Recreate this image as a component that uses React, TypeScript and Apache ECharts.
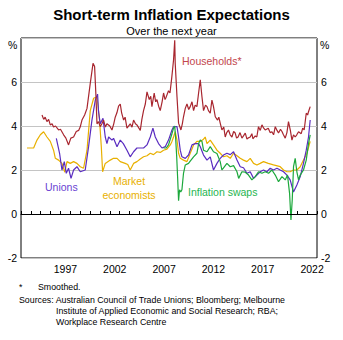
import React, { useEffect, useRef } from "react";
import * as echarts from "echarts";

// [decimal year, per cent]
const households: [number, number][] = [
  [1995.13, 4.5], [1995.3, 4.3], [1995.45, 4.4], [1995.63, 4.2], [1995.8, 4.3], [1995.97, 4.05], [1996.15, 4.1], [1996.3, 3.95],
  [1996.5, 4.0], [1996.81, 3.82], [1997.0, 3.85], [1997.32, 3.6], [1997.55, 3.45], [1997.82, 3.14], [1998.05, 3.45], [1998.33, 3.5],
  [1998.6, 3.75], [1998.84, 3.8], [1999.0, 3.95], [1999.18, 4.27], [1999.45, 4.5], [1999.69, 4.8], [2000.02, 5.94], [2000.3, 6.85],
  [2000.46, 6.7], [2000.6, 5.33], [2000.7, 4.1], [2000.85, 4.2], [2001.03, 3.97], [2001.2, 4.1], [2001.37, 4.27], [2001.55, 3.95],
  [2001.71, 4.1], [2002.0, 4.0], [2002.22, 3.82], [2002.4, 4.1], [2002.55, 4.4], [2002.72, 4.6], [2002.89, 4.9], [2003.06, 5.0],
  [2003.2, 4.6], [2003.4, 4.27], [2003.55, 4.4], [2003.74, 3.9], [2004.07, 4.1], [2004.25, 3.95], [2004.41, 4.27], [2004.6, 4.1],
  [2004.75, 4.05], [2005.09, 3.8], [2005.25, 4.3], [2005.42, 4.7], [2005.6, 5.0], [2005.77, 5.55], [2006.0, 5.2], [2006.15, 5.35],
  [2006.27, 4.88], [2006.5, 5.5], [2006.65, 5.1], [2006.78, 5.2], [2006.95, 4.9], [2007.11, 4.7], [2007.3, 5.1], [2007.45, 5.5],
  [2007.6, 5.2], [2007.7, 5.3], [2007.95, 5.6], [2008.1, 5.5], [2008.28, 6.2], [2008.46, 7.0], [2008.58, 7.9], [2008.63, 6.85],
  [2008.81, 5.33], [2008.97, 4.13], [2009.21, 3.82], [2009.35, 4.1], [2009.47, 4.42], [2009.65, 4.8], [2009.82, 5.0], [2010.0, 4.75],
  [2010.15, 4.88], [2010.33, 5.1], [2010.49, 4.7], [2010.65, 4.95], [2010.83, 4.88], [2011.0, 5.5], [2011.17, 6.1], [2011.34, 5.33],
  [2011.5, 4.7], [2011.7, 4.95], [2011.85, 4.88], [2012.0, 4.7], [2012.18, 4.58], [2012.35, 5.18], [2012.5, 4.9], [2012.69, 4.42],
  [2012.92, 4.27], [2013.05, 4.4], [2013.19, 4.13], [2013.36, 3.82], [2013.55, 3.95], [2013.7, 3.5], [2013.85, 3.7], [2014.03, 3.82],
  [2014.2, 3.6], [2014.38, 3.5], [2014.55, 3.75], [2014.71, 3.68], [2014.85, 3.45], [2015.0, 3.5], [2015.2, 3.7], [2015.39, 3.45],
  [2015.55, 3.55], [2015.73, 3.68], [2015.9, 3.4], [2016.0, 3.45], [2016.23, 3.5], [2016.4, 3.65], [2016.5, 3.42], [2016.74, 3.55],
  [2016.9, 3.5], [2017.07, 3.97], [2017.25, 3.8], [2017.42, 4.05], [2017.6, 3.9], [2017.75, 3.82], [2018.06, 3.9], [2018.25, 3.7],
  [2018.43, 3.74], [2018.6, 3.6], [2018.77, 3.97], [2018.95, 3.8], [2019.1, 3.68], [2019.3, 3.85], [2019.45, 3.75], [2019.6, 3.6],
  [2019.78, 3.45], [2019.95, 3.7], [2020.11, 4.2], [2020.3, 3.8], [2020.46, 3.36], [2020.62, 3.6], [2020.79, 3.5], [2020.95, 3.6],
  [2021.13, 3.74], [2021.4, 3.65], [2021.55, 3.9], [2021.7, 3.82], [2021.91, 4.58], [2022.05, 4.5], [2022.14, 4.65], [2022.31, 4.88],
];

const unions: [number, number][] = [
  [1996.58, 3.44], [1996.91, 2.76], [1997.15, 2.0], [1997.39, 2.38], [1997.59, 1.85], [1997.82, 2.08], [1998.07, 1.62], [1998.33, 2.0],
  [1998.67, 2.15], [1999.01, 1.92], [1999.51, 2.0], [1999.85, 3.06], [2000.19, 4.27], [2000.53, 5.18], [2000.76, 5.45], [2000.86, 4.65],
  [2001.03, 4.1], [2001.31, 4.35], [2001.54, 3.5], [2001.71, 3.2], [2001.88, 3.5], [2002.22, 3.36], [2002.38, 3.44], [2002.73, 3.06],
  [2003.06, 3.36], [2003.37, 3.2], [2003.74, 2.9], [2004.07, 2.6], [2004.41, 2.83], [2004.75, 3.0], [2005.09, 3.0], [2005.42, 3.0],
  [2005.77, 3.14], [2006.1, 3.5], [2006.37, 3.9], [2006.61, 3.5], [2006.94, 3.2], [2007.29, 3.0], [2007.62, 3.06], [2007.95, 3.36],
  [2008.3, 3.82], [2008.46, 3.97], [2008.81, 3.97], [2008.97, 3.5], [2009.14, 2.9], [2009.31, 2.6], [2009.65, 2.53], [2009.98, 2.68],
  [2010.33, 3.14], [2010.66, 3.2], [2011.0, 3.2], [2011.17, 3.06], [2011.5, 2.68], [2011.85, 2.45], [2012.18, 2.6], [2012.51, 2.0],
  [2012.86, 2.3], [2013.19, 2.53], [2013.53, 2.68], [2013.87, 2.76], [2014.21, 2.7], [2014.54, 2.83], [2014.89, 2.45], [2015.22, 2.15],
  [2015.55, 2.1], [2015.9, 1.85], [2016.23, 1.92], [2016.57, 1.62], [2016.91, 1.77], [2017.24, 1.92], [2017.58, 2.0], [2017.92, 1.92],
  [2018.26, 2.08], [2018.59, 2.0], [2018.94, 2.08], [2019.27, 2.0], [2019.61, 1.92], [2019.95, 1.77], [2020.28, 1.55], [2020.62, 1.0],
  [2020.96, 1.32], [2021.3, 1.7], [2021.63, 2.3], [2021.91, 2.9], [2022.14, 3.5], [2022.31, 4.27],
];

const marketEconomists: [number, number][] = [
  [1993.61, 3.0], [1994.28, 3.0], [1994.62, 3.36], [1994.96, 3.6], [1995.29, 3.74], [1995.63, 3.5], [1995.97, 3.3], [1996.3, 2.9],
  [1996.48, 2.53], [1996.81, 2.45], [1997.15, 2.3], [1997.44, 1.9], [1997.66, 2.38], [1997.99, 2.3], [1998.33, 2.38], [1998.67, 2.3],
  [1999.01, 2.15], [1999.34, 2.08], [1999.69, 2.9], [2000.02, 4.7], [2000.36, 5.26], [2000.7, 5.33], [2000.96, 4.27], [2001.14, 3.06],
  [2001.27, 1.92], [2001.54, 2.3], [2002.05, 2.45], [2002.38, 2.53], [2002.73, 2.53], [2003.06, 2.38], [2003.56, 2.3], [2003.82, 2.25],
  [2004.07, 2.0], [2004.41, 2.3], [2004.75, 2.38], [2005.09, 2.5], [2005.42, 2.6], [2005.77, 2.65], [2006.1, 2.76], [2006.43, 2.7],
  [2006.78, 2.83], [2007.11, 2.8], [2007.45, 2.9], [2007.79, 2.95], [2008.13, 3.14], [2008.3, 3.3], [2008.46, 3.5], [2008.63, 3.74],
  [2008.81, 3.36], [2008.97, 2.76], [2009.14, 2.53], [2009.47, 2.45], [2009.82, 2.38], [2010.15, 2.76], [2010.49, 3.14], [2010.83, 3.3],
  [2011.17, 3.3], [2011.5, 3.4], [2011.67, 3.5], [2011.85, 3.2], [2012.18, 3.36], [2012.51, 3.14], [2012.86, 2.9], [2013.19, 2.76],
  [2013.53, 2.6], [2013.87, 2.65], [2014.21, 2.53], [2014.54, 2.76], [2014.89, 2.65], [2015.22, 2.53], [2015.55, 2.45], [2015.9, 2.38],
  [2016.23, 2.53], [2016.57, 2.3], [2016.91, 2.23], [2017.24, 2.3], [2017.58, 2.38], [2018.06, 2.3], [2018.59, 2.23], [2019.27, 2.15],
  [2019.61, 2.0], [2019.95, 1.92], [2020.28, 1.92], [2020.62, 2.0], [2020.96, 2.0], [2021.3, 2.15], [2021.63, 2.45], [2021.98, 2.76],
  [2022.31, 3.3],
];

const inflationSwaps: [number, number][] = [
  [2007.45, 3.0], [2007.72, 3.0], [2007.95, 3.14], [2008.3, 3.65], [2008.46, 3.9], [2008.58, 4.0], [2008.68, 3.4], [2008.78, 2.6],
  [2008.87, 1.7], [2008.97, 0.6], [2009.07, 1.1], [2009.19, 1.0], [2009.31, 1.1], [2009.47, 1.85], [2009.65, 2.23], [2009.98, 2.3],
  [2010.15, 2.4], [2010.49, 2.6], [2010.83, 2.76], [2011.0, 3.2], [2011.17, 3.36], [2011.34, 3.3], [2011.5, 2.9], [2011.85, 2.83],
  [2012.18, 3.06], [2012.51, 2.83], [2012.86, 2.75], [2013.19, 2.38], [2013.36, 2.0], [2013.53, 2.1], [2013.87, 2.3], [2014.21, 2.15],
  [2014.54, 2.2], [2014.89, 1.92], [2015.06, 1.62], [2015.39, 1.92], [2015.73, 1.9], [2016.06, 1.77], [2016.4, 1.55], [2016.74, 1.7],
  [2017.07, 1.92], [2017.42, 1.85], [2017.75, 1.92], [2018.09, 1.85], [2018.43, 2.0], [2018.77, 1.77], [2019.1, 1.47], [2019.45, 1.7],
  [2019.78, 1.55], [2020.01, 1.77], [2020.22, 0.94], [2020.36, -0.27], [2020.49, 0.64], [2020.62, 2.15], [2020.79, 2.53], [2020.96, 1.92],
  [2021.13, 1.55], [2021.3, 1.77], [2021.63, 2.0], [2021.91, 2.45], [2022.14, 3.2], [2022.31, 3.6],
];

const yearCategories: string[] = Array.from({ length: 30 }, (_, i) => String(1993 + i));
const yearLabels = ["1997", "2002", "2007", "2012", "2017", "2022"];
const yTicks = { min: -2, max: 8, interval: 2 };

const FONT = "'Liberation Sans', Arial, sans-serif";
const C_HH = "#a8262f";
const C_UN = "#5a2dc0";
const C_ME = "#e8b000";
const C_SW = "#1ca83c";

export default function App() {
  const ref = useRef<HTMLDivElement>(null);
  useEffect(() => {
    if (!ref.current) return;
    const chart = echarts.init(ref.current, undefined, { renderer: "svg" });
    const line = (name: string, data: [number, number][], color: string, extra: any = {}) => ({
      name,
      type: "line",
      data,
      xAxisIndex: 0,
      yAxisIndex: 0,
      showSymbol: false,
      symbol: "none",
      lineStyle: { color, width: 1.2 },
      z: 3,
      ...extra,
    });
    chart.setOption({
      animation: false,
      textStyle: { fontFamily: FONT },
      grid: { left: 21, right: 26, top: 38, height: 220, show: true, borderColor: "#000", borderWidth: 1, backgroundColor: "transparent" },
      xAxis: [
        {
          type: "value", min: 1993, max: 2023, interval: 1, position: "bottom",
          axisLine: { show: true, lineStyle: { color: "#000" } },
          axisTick: { show: true, inside: true, length: 3, lineStyle: { color: "#000" } },
          axisLabel: { show: false }, splitLine: { show: false },
        },
        {
          type: "category", data: yearCategories, boundaryGap: true, position: "bottom",
          axisLine: { show: false }, axisTick: { show: false }, splitLine: { show: false },
          axisLabel: {
            show: true, color: "#000", fontSize: 10.5, fontFamily: FONT, margin: 5,
            interval: (_i: number, v: string) => yearLabels.includes(v),
          },
        },
      ],
      yAxis: [
        {
          type: "value", ...yTicks, position: "left",
          axisLine: { show: false }, axisTick: { show: false },
          axisLabel: { color: "#000", fontSize: 10.5, fontFamily: FONT, margin: 4, formatter: (v: number) => (v === 8 ? "" : String(v)) },
          splitLine: { show: true, lineStyle: { color: "#c4c4c4", width: 1.2 } },
        },
        {
          type: "value", ...yTicks, position: "right",
          axisLine: { show: false }, axisTick: { show: false },
          axisLabel: { color: "#000", fontSize: 10.5, fontFamily: FONT, margin: 4, formatter: (v: number) => (v === 8 ? "" : String(v)) },
          splitLine: { show: false },
        },
      ],
      series: [
        line("Market economists", marketEconomists, C_ME, {
          markLine: {
            silent: true, symbol: "none", label: { show: false },
            lineStyle: { color: "#000", width: 1.2, type: "solid" },
            data: [{ yAxis: 0 }],
          },
        }),
        line("Unions", unions, C_UN),
        line("Inflation swaps", inflationSwaps, C_SW),
        line("Households*", households, C_HH),
      ],
      graphic: [
        { type: "text", left: "center", top: 7, style: { text: "Short-term Inflation Expectations", font: `bold 15px ${FONT}`, fill: "#000" } },
        { type: "text", left: "center", top: 25, style: { text: "Over the next year", font: `11px ${FONT}`, fill: "#000" } },
        { type: "text", x: 8, y: 39, style: { text: "%", font: `10.5px ${FONT}`, fill: "#000" } },
        { type: "text", x: 320, y: 39, style: { text: "%", font: `10.5px ${FONT}`, fill: "#000" } },
        { type: "text", x: 182, y: 55, style: { text: "Households*", font: `10.5px ${FONT}`, fill: "#c2464e" } },
        { type: "text", x: 45, y: 181, style: { text: "Unions", font: `10.5px ${FONT}`, fill: "#6a3fd2" } },
        { type: "text", x: 129, y: 174, style: { text: "Market\neconomists", font: `10.5px ${FONT}`, fill: C_ME, align: "center", lineHeight: 14 } },
        { type: "text", x: 188, y: 186, style: { text: "Inflation swaps", font: `10.5px ${FONT}`, fill: "#26b550" } },
        { type: "text", x: 19, y: 282, style: { text: "*", font: `8.8px ${FONT}`, fill: "#000" } },
        { type: "text", x: 38, y: 282, style: { text: "Smoothed.", font: `8.8px ${FONT}`, fill: "#000" } },
        { type: "text", x: 19, y: 295, style: { text: "Sources: Australian Council of Trade Unions; Bloomberg; Melbourne", font: `8.8px ${FONT}`, fill: "#000" } },
        { type: "text", x: 56, y: 306, style: { text: "Institute of Applied Economic and Social Research; RBA;", font: `8.8px ${FONT}`, fill: "#000" } },
        { type: "text", x: 56, y: 317, style: { text: "Workplace Research Centre", font: `8.8px ${FONT}`, fill: "#000" } },
      ],
    });
    return () => chart.dispose();
  }, []);
  return <div ref={ref} style={{ position: "fixed", left: 0, top: 0, width: 343, height: 340, background: "#fff" }} />;
}
